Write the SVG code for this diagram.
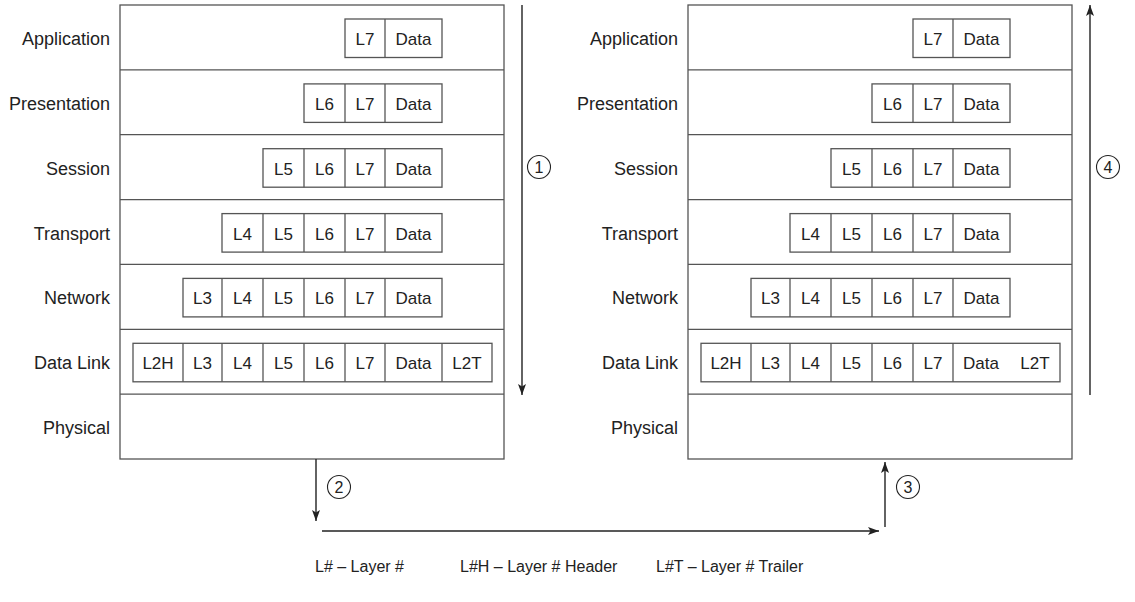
<svg xmlns="http://www.w3.org/2000/svg" width="1135" height="602" viewBox="0 0 1135 602">
<style>
.frame{fill:#fff;stroke:#555;stroke-width:1.3}
.div{stroke:#555;stroke-width:1.3}
.cell{fill:none;stroke:#555;stroke-width:1.3}
.lbl{font-family:"Liberation Sans",Arial,sans-serif;font-size:18px;fill:#222;text-anchor:end}
.ct{font-family:"Liberation Sans",Arial,sans-serif;font-size:17px;fill:#222;text-anchor:middle}
.num{font-family:"Liberation Sans",Arial,sans-serif;font-size:16px;fill:#222;text-anchor:middle}
.leg{font-family:"Liberation Sans",Arial,sans-serif;font-size:16px;fill:#222}
.arr{stroke:#222;stroke-width:1.4;fill:none;marker-end:url(#ah)}
.circ{fill:#fff;stroke:#222;stroke-width:1.1}
</style>
<defs>
<marker id="ah" markerUnits="userSpaceOnUse" markerWidth="12" markerHeight="10" refX="11" refY="4" orient="auto">
<path d="M0,0 L11,4 L0,8 L2.5,4 Z" fill="#222"/>
</marker>
</defs>

<g id="left-stack">
<rect class="frame" x="120" y="5" width="384" height="454"/>
<line class="div" x1="120" y1="69.9" x2="504" y2="69.9"/>
<line class="div" x1="120" y1="134.7" x2="504" y2="134.7"/>
<line class="div" x1="120" y1="199.6" x2="504" y2="199.6"/>
<line class="div" x1="120" y1="264.4" x2="504" y2="264.4"/>
<line class="div" x1="120" y1="329.3" x2="504" y2="329.3"/>
<line class="div" x1="120" y1="394.1" x2="504" y2="394.1"/>
<text class="lbl" x="110" y="45">Application</text>
<text class="lbl" x="110" y="110">Presentation</text>
<text class="lbl" x="110" y="175">Session</text>
<text class="lbl" x="110" y="240">Transport</text>
<text class="lbl" x="110" y="304">Network</text>
<text class="lbl" x="110" y="369">Data Link</text>
<text class="lbl" x="110" y="434">Physical</text>
</g>

<g id="left-application">
<rect class="cell" x="345" y="19" width="97" height="38.5"/>
<line class="div" x1="385" y1="19" x2="385" y2="57.5"/>
<text class="ct" x="365" y="45">L7</text><text class="ct" x="413.5" y="45">Data</text>
</g>
<g id="left-presentation">
<rect class="cell" x="304" y="83.9" width="138" height="38.5"/>
<line class="div" x1="345" y1="83.9" x2="345" y2="122.4"/>
<line class="div" x1="385" y1="83.9" x2="385" y2="122.4"/>
<text class="ct" x="324.5" y="110">L6</text><text class="ct" x="365" y="110">L7</text><text class="ct" x="413.5" y="110">Data</text>
</g>
<g id="left-session">
<rect class="cell" x="263" y="148.7" width="179" height="38.5"/>
<line class="div" x1="304" y1="148.7" x2="304" y2="187.2"/>
<line class="div" x1="345" y1="148.7" x2="345" y2="187.2"/>
<line class="div" x1="385" y1="148.7" x2="385" y2="187.2"/>
<text class="ct" x="283.5" y="175">L5</text><text class="ct" x="324.5" y="175">L6</text><text class="ct" x="365" y="175">L7</text><text class="ct" x="413.5" y="175">Data</text>
</g>
<g id="left-transport">
<rect class="cell" x="222" y="213.6" width="220" height="38.5"/>
<line class="div" x1="263" y1="213.6" x2="263" y2="252.1"/>
<line class="div" x1="304" y1="213.6" x2="304" y2="252.1"/>
<line class="div" x1="345" y1="213.6" x2="345" y2="252.1"/>
<line class="div" x1="385" y1="213.6" x2="385" y2="252.1"/>
<text class="ct" x="242.5" y="240">L4</text><text class="ct" x="283.5" y="240">L5</text><text class="ct" x="324.5" y="240">L6</text><text class="ct" x="365" y="240">L7</text><text class="ct" x="413.5" y="240">Data</text>
</g>
<g id="left-network">
<rect class="cell" x="183" y="278.4" width="259" height="38.5"/>
<line class="div" x1="222" y1="278.4" x2="222" y2="316.9"/>
<line class="div" x1="263" y1="278.4" x2="263" y2="316.9"/>
<line class="div" x1="304" y1="278.4" x2="304" y2="316.9"/>
<line class="div" x1="345" y1="278.4" x2="345" y2="316.9"/>
<line class="div" x1="385" y1="278.4" x2="385" y2="316.9"/>
<text class="ct" x="202.5" y="304">L3</text><text class="ct" x="242.5" y="304">L4</text><text class="ct" x="283.5" y="304">L5</text><text class="ct" x="324.5" y="304">L6</text><text class="ct" x="365" y="304">L7</text><text class="ct" x="413.5" y="304">Data</text>
</g>
<g id="left-datalink">
<rect class="cell" x="133" y="343.3" width="359" height="38.5"/>
<line class="div" x1="183" y1="343.3" x2="183" y2="381.8"/>
<line class="div" x1="222" y1="343.3" x2="222" y2="381.8"/>
<line class="div" x1="263" y1="343.3" x2="263" y2="381.8"/>
<line class="div" x1="304" y1="343.3" x2="304" y2="381.8"/>
<line class="div" x1="345" y1="343.3" x2="345" y2="381.8"/>
<line class="div" x1="385" y1="343.3" x2="385" y2="381.8"/>
<line class="div" x1="442" y1="343.3" x2="442" y2="381.8"/>
<text class="ct" x="158" y="369">L2H</text><text class="ct" x="202.5" y="369">L3</text><text class="ct" x="242.5" y="369">L4</text><text class="ct" x="283.5" y="369">L5</text><text class="ct" x="324.5" y="369">L6</text><text class="ct" x="365" y="369">L7</text><text class="ct" x="413.5" y="369">Data</text><text class="ct" x="467" y="369">L2T</text>
</g>

<g id="right-stack" transform="translate(568,0)">
<rect class="frame" x="120" y="5" width="384" height="454"/>
<line class="div" x1="120" y1="69.9" x2="504" y2="69.9"/>
<line class="div" x1="120" y1="134.7" x2="504" y2="134.7"/>
<line class="div" x1="120" y1="199.6" x2="504" y2="199.6"/>
<line class="div" x1="120" y1="264.4" x2="504" y2="264.4"/>
<line class="div" x1="120" y1="329.3" x2="504" y2="329.3"/>
<line class="div" x1="120" y1="394.1" x2="504" y2="394.1"/>
<text class="lbl" x="110" y="45">Application</text>
<text class="lbl" x="110" y="110">Presentation</text>
<text class="lbl" x="110" y="175">Session</text>
<text class="lbl" x="110" y="240">Transport</text>
<text class="lbl" x="110" y="304">Network</text>
<text class="lbl" x="110" y="369">Data Link</text>
<text class="lbl" x="110" y="434">Physical</text>
</g>

<g id="right-application" transform="translate(568,0)">
<rect class="cell" x="345" y="19" width="97" height="38.5"/>
<line class="div" x1="385" y1="19" x2="385" y2="57.5"/>
<text class="ct" x="365" y="45">L7</text><text class="ct" x="413.5" y="45">Data</text>
</g>
<g id="right-presentation" transform="translate(568,0)">
<rect class="cell" x="304" y="83.9" width="138" height="38.5"/>
<line class="div" x1="345" y1="83.9" x2="345" y2="122.4"/>
<line class="div" x1="385" y1="83.9" x2="385" y2="122.4"/>
<text class="ct" x="324.5" y="110">L6</text><text class="ct" x="365" y="110">L7</text><text class="ct" x="413.5" y="110">Data</text>
</g>
<g id="right-session" transform="translate(568,0)">
<rect class="cell" x="263" y="148.7" width="179" height="38.5"/>
<line class="div" x1="304" y1="148.7" x2="304" y2="187.2"/>
<line class="div" x1="345" y1="148.7" x2="345" y2="187.2"/>
<line class="div" x1="385" y1="148.7" x2="385" y2="187.2"/>
<text class="ct" x="283.5" y="175">L5</text><text class="ct" x="324.5" y="175">L6</text><text class="ct" x="365" y="175">L7</text><text class="ct" x="413.5" y="175">Data</text>
</g>
<g id="right-transport" transform="translate(568,0)">
<rect class="cell" x="222" y="213.6" width="220" height="38.5"/>
<line class="div" x1="263" y1="213.6" x2="263" y2="252.1"/>
<line class="div" x1="304" y1="213.6" x2="304" y2="252.1"/>
<line class="div" x1="345" y1="213.6" x2="345" y2="252.1"/>
<line class="div" x1="385" y1="213.6" x2="385" y2="252.1"/>
<text class="ct" x="242.5" y="240">L4</text><text class="ct" x="283.5" y="240">L5</text><text class="ct" x="324.5" y="240">L6</text><text class="ct" x="365" y="240">L7</text><text class="ct" x="413.5" y="240">Data</text>
</g>
<g id="right-network" transform="translate(568,0)">
<rect class="cell" x="183" y="278.4" width="259" height="38.5"/>
<line class="div" x1="222" y1="278.4" x2="222" y2="316.9"/>
<line class="div" x1="263" y1="278.4" x2="263" y2="316.9"/>
<line class="div" x1="304" y1="278.4" x2="304" y2="316.9"/>
<line class="div" x1="345" y1="278.4" x2="345" y2="316.9"/>
<line class="div" x1="385" y1="278.4" x2="385" y2="316.9"/>
<text class="ct" x="202.5" y="304">L3</text><text class="ct" x="242.5" y="304">L4</text><text class="ct" x="283.5" y="304">L5</text><text class="ct" x="324.5" y="304">L6</text><text class="ct" x="365" y="304">L7</text><text class="ct" x="413.5" y="304">Data</text>
</g>
<g id="right-datalink" transform="translate(568,0)">
<rect class="cell" x="133" y="343.3" width="359" height="38.5"/>
<line class="div" x1="183" y1="343.3" x2="183" y2="381.8"/>
<line class="div" x1="222" y1="343.3" x2="222" y2="381.8"/>
<line class="div" x1="263" y1="343.3" x2="263" y2="381.8"/>
<line class="div" x1="304" y1="343.3" x2="304" y2="381.8"/>
<line class="div" x1="345" y1="343.3" x2="345" y2="381.8"/>
<line class="div" x1="385" y1="343.3" x2="385" y2="381.8"/>
<text class="ct" x="413" y="369">Data</text><text class="ct" x="158" y="369">L2H</text><text class="ct" x="202.5" y="369">L3</text><text class="ct" x="242.5" y="369">L4</text><text class="ct" x="283.5" y="369">L5</text><text class="ct" x="324.5" y="369">L6</text><text class="ct" x="365" y="369">L7</text><text class="ct" x="467" y="369">L2T</text>
</g>

<g id="connectors">
<line class="arr" x1="522" y1="5" x2="522" y2="395"/>
<line class="arr" x1="316" y1="459" x2="316" y2="521"/>
<line class="arr" x1="322" y1="531" x2="879" y2="531"/>
<line class="arr" x1="885" y1="527" x2="885" y2="462"/>
<line class="arr" x1="1090" y1="395" x2="1090" y2="5"/>
</g>

<g id="step-1"><circle class="circ" cx="539" cy="167" r="11.5"/><text class="num" x="539" y="173">1</text></g>
<g id="step-2"><circle class="circ" cx="339" cy="487" r="11.5"/><text class="num" x="339" y="493">2</text></g>
<g id="step-3"><circle class="circ" cx="908" cy="487" r="11.5"/><text class="num" x="908" y="493">3</text></g>
<g id="step-4"><circle class="circ" cx="1108" cy="167" r="11.5"/><text class="num" x="1108" y="173">4</text></g>

<g id="legend">
<text class="leg" x="315" y="572">L# – Layer #</text>
<text class="leg" x="460" y="572">L#H – Layer # Header</text>
<text class="leg" x="656" y="572">L#T – Layer # Trailer</text>
</g>
</svg>
